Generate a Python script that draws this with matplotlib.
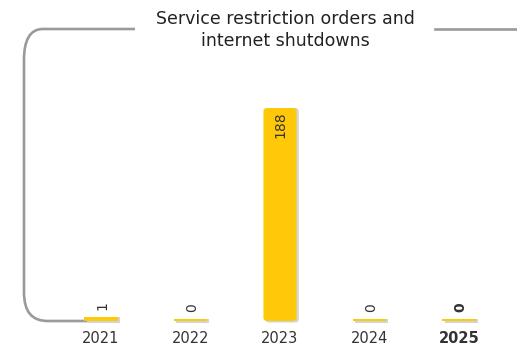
import matplotlib as mpl
mpl.use('Agg')
import matplotlib.pyplot as plt
from matplotlib.path import Path
from matplotlib.patches import PathPatch, FancyBboxPatch

years = ['2021', '2022', '2023', '2024', '2025']
orders = [1, 0, 188, 0, 0]
title = 'Service restriction orders and\ninternet shutdowns'

plt.rcParams['font.family'] = ['DejaVu Sans']

W, H = 517, 345
fig = plt.figure(figsize=(W / 100, H / 100), dpi=100)

# axes placed so that category 0 sits at x=101px, baseline at y=321px
# and the 188 bar reaches y=108px
step = 89.5
ppu = 210.5 / 188  # pixels per unit
ax = fig.add_axes([0, 14 / H, 1, 231 / H])
ax.set_xlim(-101 / step, (W - 101) / step)
ax.set_ylim(-10 / ppu, 221 / ppu)
ax.axis('off')

yellow = '#FFC90A'
shadow = '#d4d4d4'
bw = 0.37
strip = 2.5 / ppu  # thin base strip so that zero bars still show

for i, v in enumerate(orders):
    bold = 'bold' if years[i] == '2025' else 'normal'
    top = v + strip
    style = 'round,pad=0,rounding_size=0.04' if v > 20 else 'square,pad=0'
    ax.add_patch(FancyBboxPatch((i - bw / 2 + 0.025, -1.5 / ppu), bw, top + 1.5 / ppu,
                                boxstyle=style, mutation_aspect=step / ppu,
                                facecolor=shadow, edgecolor='none', zorder=3))
    ax.add_patch(FancyBboxPatch((i - bw / 2, 0), bw, top,
                                boxstyle=style, mutation_aspect=step / ppu,
                                facecolor=yellow, edgecolor='none', zorder=4))
    if v > 20:
        ax.text(i, top - 3 / ppu, str(v), rotation=90, ha='center', va='top',
                fontsize=10, color='#333333', zorder=5)
    else:
        ax.text(i + 0.02, top + 7 / ppu, str(v), rotation=90, ha='center', va='bottom',
                fontsize=10, color='#333333', fontweight=bold, zorder=5)
    ax.text(i, -10 / ppu, years[i], ha='center', va='top', fontsize=10.5,
            color='#333333', fontweight=bold, clip_on=False)

# frame line drawn in figure pixels (y measured from the top)
def px(x, y):
    return (x / W, 1 - y / H)

verts = [px(135, 29), px(43, 29),
         px(30, 29), px(24, 40), px(24, 60),
         px(24, 292),
         px(24, 312), px(32, 321), px(48, 321),
         px(118, 321)]
codes = [Path.MOVETO, Path.LINETO,
         Path.CURVE4, Path.CURVE4, Path.CURVE4,
         Path.LINETO,
         Path.CURVE4, Path.CURVE4, Path.CURVE4,
         Path.LINETO]
frame = PathPatch(Path(verts, codes), transform=fig.transFigure,
                  facecolor='none', edgecolor='#9a9a9a', lw=1.9,
                  zorder=2, clip_on=False)
ax.add_artist(frame)
fig.add_artist(plt.Line2D([435 / W, 1], [1 - 29 / H] * 2, color='#9a9a9a', lw=1.9))

fig.text(285 / W, 1 - 30 / H, title, ha='center', va='center', fontsize=12.5,
         color='#222222', linespacing=1.3)

fig.savefig('out.png', dpi=100)
